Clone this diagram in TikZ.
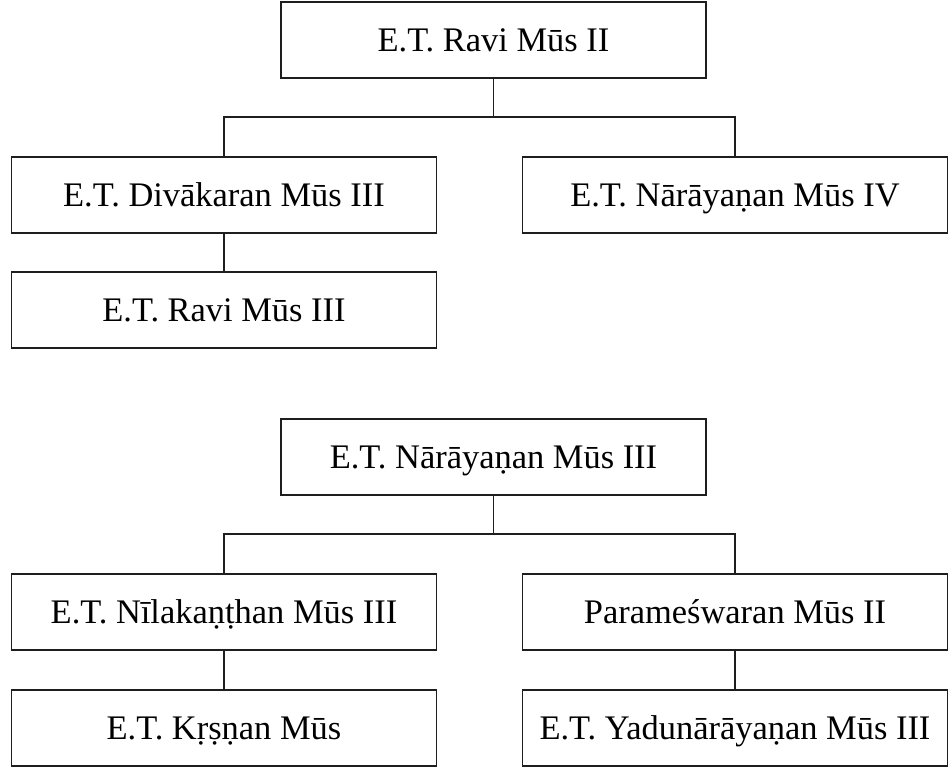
\documentclass[tikz,border=0pt]{standalone}
\usepackage{fontspec}
\setmainfont{Liberation Serif}
\usepackage{tikz}
\usetikzlibrary{positioning}
\usepackage{xcolor}
\definecolor{cLine}{RGB}{30,30,30}
\tikzset{
  famnode/.style={rectangle, draw=cLine, line width=0.8pt, align=center,
                  minimum width=8.5cm, minimum height=1.52cm, inner sep=0pt,
                  outer sep=0pt, text height=18pt, text depth=4.4pt,
                  font=\fontsize{19.6}{22}\selectfont},
  link/.style={draw=cLine, line width=0.6pt}
}
\begin{document}
\begin{tikzpicture}[node distance=1.58cm]
  \useasboundingbox (0,0) rectangle (19.02,-15.38);

  % first family
  \node[famnode] (rav2) at (9.87,-0.80) {E.T. Ravi Mūs II};
  \node[famnode, below=of rav2, xshift=-5.39cm] (div3) {E.T. Divākaran Mūs III};
  \node[famnode, right=1.72cm of div3] (nar4) {E.T. Nārāyaṇan Mūs IV};
  \node[famnode, below=0.78cm of div3] (rav3) {E.T. Ravi Mūs III};

  % second family
  \node[famnode, below=1.42cm of rav3, xshift=5.39cm] (nar3) {E.T. Nārāyaṇan Mūs III};
  \node[famnode, below=of nar3, xshift=-5.39cm] (nil3) {E.T. Nīlakaṇṭhan Mūs III};
  \node[famnode, right=1.72cm of nil3] (par2) {Parameśwaran Mūs II};
  \node[famnode, below=0.80cm of nil3] (krs) {E.T. Kṛṣṇan Mūs};
  \node[famnode, below=0.80cm of par2] (yad3) {E.T. Yadunārāyaṇan Mūs III};

  \foreach \from/\to in {rav2/div3, rav2/nar4, nar3/nil3, nar3/par2}
    \draw[link] (\from.south) -- ++(0,-0.78) -| (\to.north);
  \foreach \from/\to in {div3/rav3, nil3/krs, par2/yad3}
    \draw[link] (\from) -- (\to);
\end{tikzpicture}
\end{document}
